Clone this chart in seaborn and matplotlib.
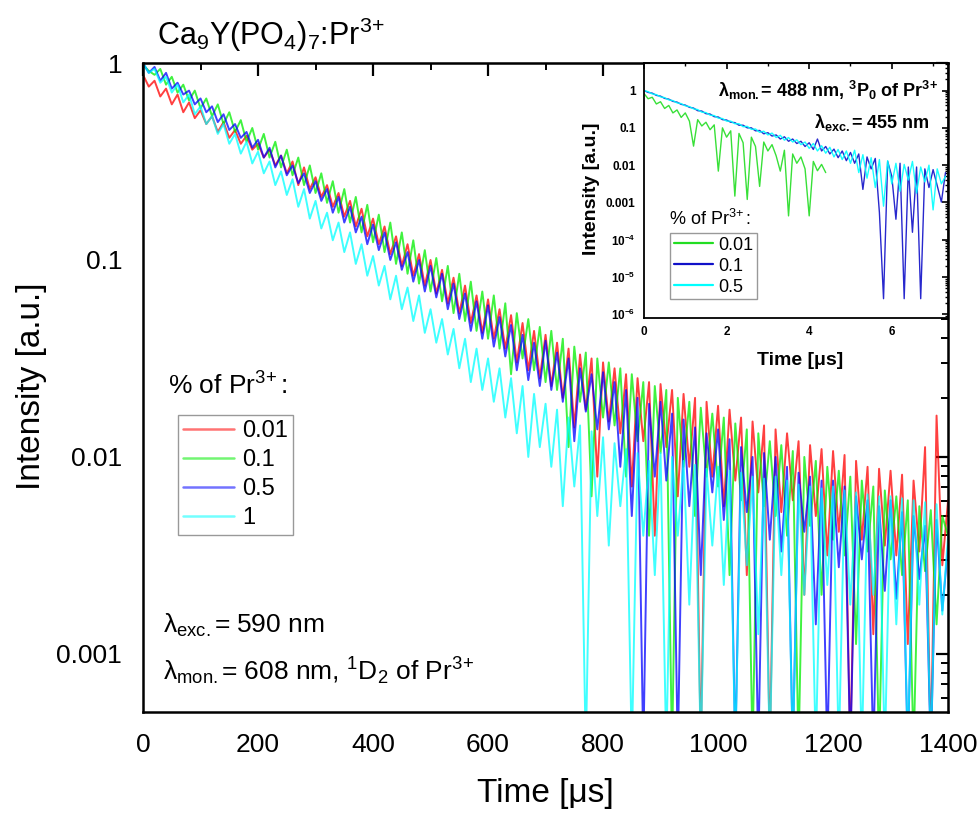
import numpy as np
import pandas as pd
import seaborn as sns
import matplotlib
matplotlib.use("Agg")
import matplotlib.pyplot as plt
from matplotlib.lines import Line2D
from matplotlib.ticker import MultipleLocator, LogLocator, NullFormatter

# ---- main panel: 1D2 decay (lambda_mon = 608 nm), log10 of intensity
time_main = np.arange(0, 1401, 10)  # us

log_int_001 = [
    -0.06, -0.12, -0.09, -0.17, -0.13, -0.21, -0.16, -0.25, -0.20, -0.28,
    -0.24, -0.31, -0.27, -0.35, -0.30, -0.38, -0.34, -0.41, -0.37, -0.44,
    -0.41, -0.48, -0.44, -0.52, -0.47, -0.56, -0.50, -0.62, -0.53, -0.64,
    -0.58, -0.68, -0.62, -0.73, -0.66, -0.78, -0.70, -0.83, -0.74, -0.88,
    -0.79, -0.92, -0.83, -0.97, -0.88, -1.03, -0.92, -1.08, -0.97, -1.13,
    -1.00, -1.17, -1.05, -1.22, -1.09, -1.27, -1.13, -1.32, -1.18, -1.37,
    -1.20, -1.40, -1.25, -1.45, -1.28, -1.52, -1.32, -1.56, -1.36, -1.60,
    -1.38, -1.64, -1.42, -1.70, -1.45, -1.85, -1.48, -1.76, -1.50, -2.10,
    -1.52, -1.82, -1.55, -1.88, -1.58, -2.15, -1.60, -1.92, -1.62, -2.40,
    -1.63, -1.95, -1.66, -2.20, -1.68, -2.05, -1.70, -3.50, -1.72, -2.10,
    -1.74, -2.25, -1.76, -2.12, -1.80, -2.60, -1.82, -2.18, -1.84, -3.50,
    -1.86, -2.28, -1.88, -2.22, -1.92, -2.70, -1.94, -2.30, -1.96, -2.50,
    -1.97, -2.38, -1.99, -3.50, -2.02, -2.42, -2.05, -2.90, -2.06, -2.45,
    -2.07, -2.50, -2.09, -2.95, -2.12, -2.48, -1.95, -3.50, -1.79, -2.55,
    -2.22,
]
log_int_01 = [
    -0.01, -0.04, -0.06, -0.03, -0.11, -0.07, -0.15, -0.11, -0.19, -0.14,
    -0.23, -0.18, -0.27, -0.21, -0.31, -0.25, -0.35, -0.29, -0.40, -0.33,
    -0.44, -0.36, -0.48, -0.40, -0.53, -0.44, -0.57, -0.48, -0.62, -0.52,
    -0.66, -0.56, -0.71, -0.60, -0.76, -0.64, -0.81, -0.68, -0.86, -0.72,
    -0.91, -0.77, -0.96, -0.81, -1.02, -0.86, -1.07, -0.90, -1.12, -0.95,
    -1.16, -0.99, -1.21, -1.03, -1.27, -1.07, -1.31, -1.11, -1.36, -1.16,
    -1.40, -1.18, -1.45, -1.22, -1.58, -1.27, -1.50, -1.30, -1.56, -1.34,
    -1.62, -1.36, -1.66, -1.40, -1.95, -1.44, -1.72, -1.47, -2.20, -1.50,
    -1.80, -1.52, -1.84, -1.55, -2.10, -1.58, -1.92, -1.62, -2.40, -1.64,
    -1.98, -1.66, -3.50, -1.70, -2.05, -1.72, -2.30, -1.75, -2.10, -1.78,
    -2.15, -1.80, -2.60, -1.83, -2.22, -1.86, -3.50, -1.88, -2.25, -1.92,
    -2.30, -1.94, -2.40, -1.97, -3.50, -2.00, -2.35, -2.02, -2.70, -2.05,
    -2.42, -2.07, -2.50, -2.10, -2.95, -2.12, -2.48, -2.15, -3.50, -2.17,
    -2.52, -2.20, -2.60, -2.22, -3.50, -2.25, -2.58, -2.27, -2.85, -2.30,
    -2.40,
]
log_int_05 = [
    0.00, -0.05, -0.02, -0.09, -0.05, -0.13, -0.10, -0.16, -0.14, -0.21,
    -0.18, -0.25, -0.22, -0.30, -0.26, -0.34, -0.31, -0.38, -0.35, -0.43,
    -0.39, -0.48, -0.43, -0.53, -0.47, -0.57, -0.52, -0.61, -0.56, -0.66,
    -0.60, -0.70, -0.64, -0.76, -0.68, -0.81, -0.73, -0.86, -0.78, -0.92,
    -0.82, -0.95, -0.86, -1.00, -0.91, -1.05, -0.96, -1.11, -1.00, -1.16,
    -1.03, -1.19, -1.07, -1.25, -1.12, -1.30, -1.17, -1.36, -1.21, -1.40,
    -1.23, -1.44, -1.29, -1.49, -1.33, -1.56, -1.38, -1.61, -1.42, -1.64,
    -1.41, -1.66, -1.47, -1.72, -1.50, -1.92, -1.55, -1.77, -1.58, -1.86,
    -1.57, -1.86, -1.62, -2.05, -1.66, -2.30, -1.70, -3.50, -1.73, -2.10,
    -1.72, -2.12, -1.78, -3.50, -1.81, -2.25, -1.85, -2.60, -1.88, -2.18,
    -1.86, -2.32, -1.91, -3.50, -1.95, -2.28, -2.00, -3.50, -1.98, -2.42,
    -2.00, -2.48, -2.05, -3.50, -2.08, -2.38, -2.10, -2.85, -2.12, -3.50,
    -2.12, -2.56, -2.15, -3.50, -2.20, -2.52, -2.22, -3.50, -2.25, -2.68,
    -2.22, -2.72, -2.28, -3.50, -2.30, -2.62, -2.35, -3.50, -2.32, -2.78,
    -2.45,
]
log_int_1 = [
    0.00, -0.05, -0.03, -0.10, -0.07, -0.15, -0.11, -0.20, -0.16, -0.26,
    -0.22, -0.31, -0.27, -0.36, -0.31, -0.41, -0.36, -0.46, -0.40, -0.51,
    -0.45, -0.56, -0.50, -0.62, -0.55, -0.67, -0.59, -0.73, -0.64, -0.79,
    -0.70, -0.84, -0.76, -0.90, -0.81, -0.96, -0.86, -1.02, -0.92, -1.08,
    -0.98, -1.13, -1.03, -1.20, -1.08, -1.25, -1.14, -1.31, -1.18, -1.37,
    -1.25, -1.42, -1.30, -1.48, -1.35, -1.55, -1.40, -1.62, -1.45, -1.66,
    -1.50, -1.72, -1.55, -1.80, -1.60, -1.88, -1.64, -2.00, -1.68, -1.95,
    -1.73, -2.05, -1.76, -2.25, -1.80, -2.15, -1.84, -3.50, -1.87, -2.30,
    -1.90, -2.45, -1.93, -2.25, -1.96, -3.50, -1.98, -2.40, -2.02, -2.60,
    -1.98, -3.50, -2.00, -2.40, -2.02, -2.75, -2.04, -3.50, -2.06, -2.45,
    -2.05, -2.65, -2.07, -3.50, -2.08, -2.55, -2.10, -2.90, -2.11, -3.50,
    -2.10, -2.60, -2.12, -3.50, -2.14, -2.70, -2.15, -3.50, -2.16, -2.65,
    -2.15, -3.50, -2.17, -2.75, -2.18, -3.50, -2.19, -2.70, -2.20, -3.50,
    -2.20, -2.85, -2.21, -3.50, -2.22, -2.75, -2.23, -3.50, -2.24, -2.80,
    -2.40,
]
main_conc = ["0.01", "0.1", "0.5", "1"]
main_colors = ["#ff0000", "#00ee00", "#0000ff", "#00ffff"]

# ---- inset: 3P0 decay (lambda_mon = 488 nm), time in us
time_inset = np.round(np.arange(0, 7.31, 0.1), 1)

log_ins_001 = [
    -0.08, -0.22, -0.18, -0.36, -0.30, -0.48, -0.40, -0.60, -0.52, -0.72,
    -0.60, -0.82, -1.49, -0.78, -0.95, -0.85, -1.05, -0.92, -2.16, -1.00,
    -1.25, -1.08, -2.83, -1.15, -1.40, -2.92, -1.25, -1.50, -2.57, -1.38,
    -1.62, -1.45, -1.75, -2.16, -1.60, -3.36, -1.70, -1.95, -1.78, -2.10,
    -3.36, -1.90, -2.15, -1.98, -2.20,
]
log_ins_01 = [
    0.00, -0.05, -0.07, -0.13, -0.15, -0.21, -0.23, -0.29, -0.31, -0.37,
    -0.39, -0.45, -0.47, -0.54, -0.55, -0.62, -0.63, -0.70, -0.71, -0.78,
    -0.79, -0.85, -0.86, -0.93, -0.93, -1.00, -1.00, -1.08, -1.07, -1.16,
    -1.13, -1.22, -1.19, -1.30, -1.24, -1.36, -1.30, -1.42, -1.36, -1.50,
    -1.40, -1.58, -1.30, -1.62, -1.50, -1.70, -1.57, -1.80, -1.62, -1.88,
    -1.66, -1.95, -1.70, -2.65, -1.78, -2.10, -1.82, -3.27, -5.58, -1.90,
    -2.30, -3.45, -1.95, -5.58, -2.05, -3.80, -2.05, -5.58, -2.10, -2.60,
    -2.12, -2.55, -2.99, -2.20,
]
log_ins_05 = [
    0.00, -0.03, -0.09, -0.11, -0.17, -0.19, -0.25, -0.27, -0.33, -0.35,
    -0.41, -0.43, -0.49, -0.51, -0.58, -0.59, -0.66, -0.67, -0.74, -0.75,
    -0.82, -0.82, -0.89, -0.89, -0.97, -0.96, -1.04, -1.03, -1.12, -1.09,
    -1.19, -1.14, -1.26, -1.20, -1.33, -1.26, -1.38, -1.32, -1.45, -1.38,
    -1.55, -1.42, -1.62, -1.48, -1.68, -1.52, -1.78, -1.58, -1.85, -1.62,
    -1.95, -1.60, -2.20, -1.72, -2.35, -1.80, -2.60, -1.85, -3.10, -1.88,
    -2.50, -1.95, -2.70, -1.98, -2.40, -1.90, -2.75, -2.05, -2.45, -2.00,
    -3.20, -2.10, -2.50, -2.30,
]
inset_conc = ["0.01", "0.1", "0.5"]
inset_colors = ["#22dd22", "#1010c8", "#00ffff"]

main_df = pd.concat([
    pd.DataFrame({"time": time_main, "intensity": 10 ** np.array(v), "conc": c})
    for c, v in zip(main_conc, [log_int_001, log_int_01, log_int_05, log_int_1])
])
inset_df = pd.concat([
    pd.DataFrame({"time": time_inset[:len(v)], "intensity": 10 ** np.array(v), "conc": c})
    for c, v in zip(inset_conc, [log_ins_001, log_ins_01, log_ins_05])
])

sns.set_style("white")
plt.rcParams["font.family"] = ["Liberation Sans", "DejaVu Sans"]
plt.rcParams["mathtext.fontset"] = "custom"
plt.rcParams["mathtext.rm"] = "Liberation Sans"
plt.rcParams["mathtext.it"] = "Liberation Sans:italic"
plt.rcParams["mathtext.bf"] = "Liberation Sans:bold"
for key in ["text.color", "axes.labelcolor", "xtick.color", "ytick.color", "axes.edgecolor"]:
    plt.rcParams[key] = "black"

fig = plt.figure(figsize=(9.79, 8.13), dpi=100)
ax = fig.add_axes([0.1461, 0.1242, 0.8223, 0.7983])

sns.lineplot(data=main_df, x="time", y="intensity", hue="conc", hue_order=main_conc,
             palette=dict(zip(main_conc, main_colors)), estimator=None, sort=False,
             lw=1.4, alpha=0.75, legend=False, ax=ax)
ax.set_yscale("log")
ax.set_xlim(0, 1400)
ax.set_ylim(5.07e-4, 1)
ax.set_xticks(range(0, 1401, 200))
ax.xaxis.set_minor_locator(MultipleLocator(100))
ax.set_yticks([1e-3, 1e-2, 1e-1, 1])
ax.set_yticklabels(["0.001", "0.01", "0.1", "1"])
ax.yaxis.set_minor_locator(LogLocator(base=10, subs=np.arange(2, 10)))
ax.yaxis.set_minor_formatter(NullFormatter())
ax.set_xlabel("")
ax.set_ylabel("")
ax.tick_params(which="major", direction="out", length=9, width=1.6, labelsize=19, pad=6)
ax.tick_params(which="minor", direction="out", length=5, width=1.4)
for s in ax.spines.values():
    s.set_linewidth(1.8)
    s.set_color("black")

top = ax.secondary_xaxis("top")
top.set_xticks(range(0, 1401, 200))
top.xaxis.set_minor_locator(MultipleLocator(100))
top.tick_params(which="major", direction="in", length=9, width=1.6, labeltop=False)
top.tick_params(which="minor", direction="in", length=5, width=1.4)
right = ax.secondary_yaxis("right")
right.set_yticks([1e-3, 1e-2, 1e-1, 1])
right.yaxis.set_minor_locator(LogLocator(base=10, subs=np.arange(2, 10)))
right.yaxis.set_minor_formatter(NullFormatter())
right.tick_params(which="major", direction="in", length=9, width=1.6, labelright=False)
right.tick_params(which="minor", direction="in", length=5, width=1.4)

handles = [Line2D([], [], color=c, lw=1.8, alpha=0.55) for c in main_colors]
leg = ax.legend(handles, main_conc, loc="upper left", bbox_to_anchor=(178 / 979, 1 - 415 / 813),
                bbox_transform=fig.transFigure, borderaxespad=0, fontsize=17, frameon=True,
                fancybox=False, edgecolor="#808080", handlelength=2.15, handletextpad=0.35,
                labelspacing=0.3, borderpad=0.22)
leg.get_frame().set_linewidth(1.0)

fig.text(157 / 979, 1 - 45 / 813, r"Ca$_9$Y(PO$_4$)$_7$:Pr$^{3\!+}$", fontsize=22, va="baseline")
fig.text(168 / 979, 1 - 395 / 813, r"% of Pr$^{3\!+}$:", fontsize=19, va="baseline")
fig.text(163 / 979, 1 - 633 / 813, r"λ$_{\mathrm{exc.}}$= 590 nm", fontsize=19, va="baseline")
fig.text(163 / 979, 1 - 680 / 813, r"λ$_{\mathrm{mon.}}$= 608 nm, $^{1}$D$_{2}$ of Pr$^{3\!+}$",
         fontsize=19, va="baseline")
fig.text(545 / 979, 1 - 802 / 813, "Time [μs]", fontsize=24, ha="center", va="baseline")
fig.text(32 / 979, 1 - 386 / 813, "Intensity [a.u.]", fontsize=24, ha="center", va="center",
         rotation=90)

# ---- inset
ins = fig.add_axes([0.6578, 0.6089, 0.3105, 0.3137])
ins.set_facecolor("white")
sns.lineplot(data=inset_df, x="time", y="intensity", hue="conc", hue_order=inset_conc,
             palette=dict(zip(inset_conc, inset_colors)), estimator=None, sort=False,
             lw=1.0, alpha=0.9, legend=False, ax=ins)
ins.set_yscale("log")
ins.set_xlim(0, 7.36)
ins.set_ylim(8e-7, 5.5)
ins.set_xticks([0, 2, 4, 6])
ins.set_xticklabels(["0", "2", "4", "6"], fontweight="bold")
ins.xaxis.set_minor_locator(MultipleLocator(1))
ins_yt = [1e-6, 1e-5, 1e-4, 1e-3, 1e-2, 1e-1, 1]
ins.set_yticks(ins_yt)
ins.set_yticklabels([r"10$^{\mathbf{-6}}$", r"10$^{\mathbf{-5}}$", r"10$^{\mathbf{-4}}$",
                     "0.001", "0.01", "0.1", "1"], fontweight="bold")
ins.yaxis.set_minor_locator(LogLocator(base=10, subs=np.arange(2, 10)))
ins.yaxis.set_minor_formatter(NullFormatter())
ins.set_xlabel("")
ins.set_ylabel("")
ins.tick_params(which="major", direction="out", length=4, width=1.2, labelsize=8.5, pad=2)
ins.tick_params(which="minor", direction="out", length=2.5, width=1.0)
for s in ins.spines.values():
    s.set_linewidth(1.3)
    s.set_color("black")
itop = ins.secondary_xaxis("top")
itop.set_xticks([0, 2, 4, 6])
itop.xaxis.set_minor_locator(MultipleLocator(1))
itop.tick_params(which="major", direction="in", length=4, width=1.2, labeltop=False)
itop.tick_params(which="minor", direction="in", length=2.5, width=1.0)
iright = ins.secondary_yaxis("right")
iright.set_yticks(ins_yt)
iright.yaxis.set_minor_locator(LogLocator(base=10, subs=np.arange(2, 10)))
iright.yaxis.set_minor_formatter(NullFormatter())
iright.tick_params(which="major", direction="in", length=4, width=1.2, labelright=False)
iright.tick_params(which="minor", direction="in", length=2.5, width=1.0)

ihandles = [Line2D([], [], color=c, lw=1.6) for c in inset_colors]
ileg = ins.legend(ihandles, inset_conc, loc="upper left", bbox_to_anchor=(670 / 979, 1 - 233 / 813),
                  bbox_transform=fig.transFigure, borderaxespad=0, fontsize=13, frameon=True,
                  fancybox=False, edgecolor="#808080", handlelength=2.2, handletextpad=0.3,
                  labelspacing=0.22, borderpad=0.2)
ileg.get_frame().set_linewidth(1.0)

fig.text(669 / 979, 1 - 225 / 813, r"% of Pr$^{3\!+}$:", fontsize=13, va="baseline")
fig.text(938 / 979, 1 - 97 / 813,
         r"λ$_{\mathbf{mon.}}$= 488 nm, $^{\mathbf{3}}$P$_{\mathbf{0}}$ of Pr$^{\mathbf{3\!+}}$",
         fontsize=13, fontweight="bold", ha="right", va="baseline")
fig.text(930 / 979, 1 - 128 / 813, r"λ$_{\mathbf{exc.}}$= 455 nm", fontsize=13,
         fontweight="bold", ha="right", va="baseline")
fig.text(800 / 979, 1 - 365 / 813, "Time [μs]", fontsize=14, fontweight="bold",
         ha="center", va="baseline")
fig.text(591 / 979, 1 - 189 / 813, "Intensity [a.u.]", fontsize=14, fontweight="bold",
         ha="center", va="center", rotation=90)

fig.savefig("out.png", dpi=100)
